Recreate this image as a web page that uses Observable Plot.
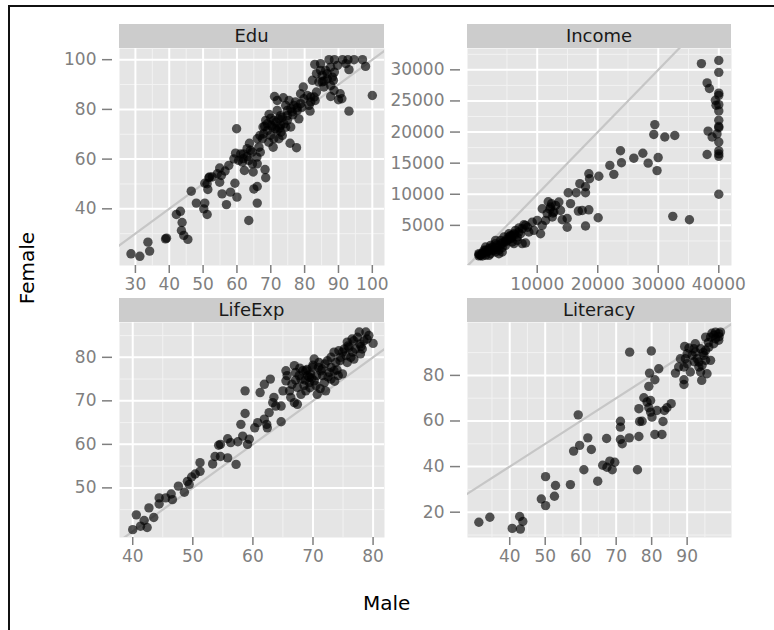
<!DOCTYPE html>
<html><head><meta charset="utf-8">
<script src="https://cdn.jsdelivr.net/npm/d3@7"></script>
<script src="https://cdn.jsdelivr.net/npm/@observablehq/plot@0.6"></script>
<style>
body{margin:0;background:#fff;}
#root{position:relative;width:774px;height:630px;overflow:hidden;font-family:"DejaVu Sans",sans-serif;background:#fff;}
#root svg{overflow:visible;}
.abs{position:absolute;}
.strip{position:absolute;background:#cccccc;color:#1a1a1a;font-size:18px;text-align:center;line-height:24px;height:24px;}
</style></head><body><div id="root"></div>
<script>
const panelNames = ["Edu", "Income", "LifeExp", "Literacy"];
const xTitle = "Male";
const yTitle = "Female";

// [male, female]
const edu = [
[28.7,21.9],[31.3,20.9],[33.7,26.6],[34.2,23],[38.9,27.9],[39.2,28.2],[42.1,37.7],[43.3,39],[43.8,34.5],[43.6,31.3],
[44.3,29.3],[45.5,27.7],[46.5,47.1],[48,42.3],[50.5,42.3],[50.5,50.3],[50.2,40],[51.2,37.7],[51.7,52.5],[51.9,52.8],
[51.4,47.8],[54.9,56.4],[55.4,53.4],[54.9,50.7],[55.6,46],[56.9,41.7],[58.1,46.7],[59.4,50.3],[60,44.7],[59.9,72.2],
[59.6,62.4],[61.1,62.1],[61.6,58.8],[62.2,55.4],[63,61],[63.7,66.4],[63.5,35.3],[64.8,54.8],[65,48],[66,49],
[66,42.3],[68.3,55.8],[68.5,52.5],[64.6,58.1],[65.9,60.8],[66,68.2],[66.8,69.5],[67.7,72.9],[68.5,75.6],[69,71.5],
[69.5,78],[69.9,69.5],[70.7,64.8],[70.9,75.6],[71.4,72.2],[71.9,79.6],[72.4,76.2],[72.9,73.6],[73.4,76.8],[73.9,74.2],
[71.1,85.2],[73.7,84.7],[74.4,81.6],[75.4,83.6],[75.9,80.3],[75.7,66.4],[77.6,64.6],[76.3,79],[77.3,83],[77.8,79.6],
[78.3,76.2],[78.8,86.3],[79.6,89],[76.8,81.6],[74.9,77.5],[74.4,72.8],[81.8,83],[81.6,79.3],[82.8,85],[82.3,91.7],
[83.5,94.4],[83,98.1],[84.7,98.4],[84.2,91],[85.2,93.7],[85.7,91.4],[86.2,95.7],[86.7,92.3],[87.2,100],[88.8,100],
[87.7,85.2],[88.7,87.6],[90,83.9],[93.1,79.3],[92.8,100],[93.1,96],[97.1,100],[98,97.3],[100,85.6],[88.8,95],
[89.7,97.7],[87.7,89.6],[84.7,95.7],[69,74.2],[70.4,72.9],[71.9,71.5],[70.9,68.2],[69.4,66.8],[67.9,70.2],[67.5,68.2],
[66.5,64.8],[66.9,62.8],[72.9,77.5],[74.9,79.6],[77.8,80.7],[78.8,82.3],[79.8,84.3],[80.8,85.6],[83.5,87],[83.1,83.6],
[71.9,83.6],[74.9,75.6],[75.9,72.9],[73.4,69.5],[72.4,68.2],[63,64.2],[62,62.1],[60.5,59.5],[59.1,60.1],[57.6,57.5],
[54.2,54.1],[52.7,52.8],[51.2,50.1],[63.5,59.5],[64.5,62.8],[66,58.1],[85.2,91.1],[85.7,89],[86.7,94.4],[87.7,97],
[88.2,93],[91.2,100],[94.6,100],[92.2,98.4],[88.5,91.7],[90.5,86.3],[91,84.3],[81.8,85],[81.3,81.6],[70.2,73.5],
[71.5,74.8],[72.6,72.5],[73,70.8],[68.2,73.2],[70,76.5],[76.5,77.8],[79.2,80.8],[61.8,60.2],[64,63.5],[56.5,55.2]
];

const income = [
[40000,31500],[40000,29600],[40000,26250],[40000,25900],[40000,24400],[40000,23400],[40000,21900],[40000,20900],[40000,20700],[40000,18400],
[40000,17000],[40000,16500],[40000,16100],[40000,10000],[37130,31000],[38070,27900],[38450,27000],[39550,24300],[38230,20150],[38900,19200],
[38070,16400],[39440,25100],[39700,19700],[29430,21200],[29260,19600],[31080,19200],[32730,19450],[29980,15900],[29800,13800],[27450,16600],
[28330,15000],[25960,15800],[23760,17000],[23920,15060],[22000,14640],[22660,13200],[20180,12900],[18530,13300],[18640,12500],[17040,11700],
[17980,11200],[15120,10250],[16440,10250],[17980,10250],[15500,8500],[17430,7400],[18530,7500],[20070,6230],[17980,4900],[14950,4700],
[14950,6100],[14130,5900],[32400,6450],[35150,5900],[11820,8800],[12200,7950],[12750,7150],[11650,6900],[12480,6340],[11380,5800],
[10830,5000],[10550,3660],[10000,5800],[9170,5500],[8070,5000],[7520,4470],[8620,3930],[9450,4200],[13030,8210],[13850,7400],
[13580,8750],[12370,8480],[10830,7680],[400,300],[920,450],[1470,1000],[2020,1250],[2570,1520],[3120,2060],[3950,2590],
[4500,3130],[5320,3660],[5870,3390],[6700,2590],[6150,2060],[4770,1790],[3670,1000],[2300,450],[1470,200],[640,150],
[3120,720],[4220,1410],[5050,2590],[5600,2860],[7250,3660],[7520,2060],[8070,2160],[6420,4200],[6700,3130],[3670,450],
[1750,720],[1200,1000],[370,450],[2570,1000],[3400,1520],[4500,2330],[5320,3130],[370,100],[920,80],[2020,180],
[2850,1000],[3950,1790],[4770,2330],[5600,3390],[6150,3660],[6970,3930],[5870,2330],[4220,720],[1470,1520],[2300,1790],
[3120,2590],[1000,600],[1800,900],[2600,1400],[3300,1800],[4100,2100],[4900,2700],[5700,3000],[6300,3500],[7000,4600],
[7800,5100],[8400,4700],[12100,7600],[12600,7000],[16800,7300]
];

const lifeExp = [
[40,40.4],[40.6,43.8],[41.3,41.2],[41.9,42.5],[42.4,40.9],[42.7,45.4],[43.5,43.2],[44.4,47.7],[44.4,46.3],[45.5,47.7],
[46.4,48.6],[46.6,47.3],[47.6,50.4],[48.6,49],[49.1,51.5],[49.4,50.8],[49.8,52.5],[50.4,53.2],[51.2,53.8],[51.2,55.8],
[53.3,55.5],[53.7,57.2],[54.6,57.2],[55.8,56.9],[54.3,59.8],[54.6,60],[55.8,61.3],[56.3,60.4],[57.2,55.4],[57.5,60.6],
[58,64.6],[58.3,61.9],[58.7,67.1],[58.7,72.3],[59.1,60],[59.4,61.2],[60.3,63.8],[60.8,65],[61.2,71.9],[61.9,73.8],
[62.9,75],[61.9,65.8],[62.3,64.6],[62.4,63.8],[62.7,67.3],[63.3,69.6],[63.5,70.8],[63.8,68.8],[64.7,68.8],[64.7,65.2],
[65,72.3],[65.5,74.6],[65.5,76.9],[66.1,72.3],[66.3,70.8],[66.9,78.1],[67.1,76.5],[67.1,74.8],[67.4,69.2],[67.4,73.1],
[68,75],[68.3,76.9],[68.5,73.5],[69.1,75.8],[69.4,74.2],[69.6,76.2],[69.9,77.7],[70.2,74.6],[70.5,73.5],[71,78.8],
[71.3,76.9],[71.6,75.8],[71.9,74.2],[72.4,79.2],[73,77.7],[73.5,76.9],[74,77.1],[74.9,76.2],[73.5,81.2],[74.3,81.5],
[75.2,81.9],[75.5,80.4],[76,82.3],[76.6,81.2],[76.8,83.8],[77.4,84.6],[77.8,83.1],[78.2,81.9],[78.8,85.8],[79.3,85],
[80,83.2],[70.2,79.6],[73,80],[74.6,80],[76.3,80],[77.1,81.9],[68.8,76.9],[69.4,75.4],[68.7,74.8],[69.8,75.2],
[70.6,75.8],[70.9,77.7],[72,78.5],[72.7,76.5],[67.7,75.8],[68,71.5],[66.9,69.6],[65.7,75.8],[68.8,72.3],[73.8,78.8],
[75.7,78.8],[76.8,79.6],[77.9,80.8],[78.5,83.8],[77.7,85.8],[75.7,83.5],[74.9,81.2],[73,75],[74.2,75.8],[70.7,71.5],
[72.1,72.3],[69,77.2],[70,78.2],[71.5,77.3],[72.5,75.5],[74.5,79.2],[75.8,82.6],[76.5,84.2],[78,82.5],[79,84.2],
[67.8,77.5],[69.5,73],[71.2,72.8],[73.6,74.5],[66.5,73.8]
];

const literacy = [
[31.3,15.6],[34.4,17.8],[40.7,12.9],[42.8,18.1],[43.7,15.9],[43,12.6],[48.9,25.8],[50.1,22.9],[50.1,35.6],[52.6,27],
[52.9,31.7],[57.1,32.1],[58,46.8],[59.3,62.7],[59.7,49.3],[60.9,38.6],[62,52.6],[63,47.5],[64.8,33.6],[66.2,40.6],
[67.3,52.3],[67.4,39.7],[68.2,42.4],[68.9,38.6],[69.6,41.9],[71.2,59.9],[71.2,57.3],[71.2,51.9],[71.7,50],[73.7,52.6],
[73.8,90.2],[76.4,53.2],[76,38.6],[76.6,59.8],[77.3,59.9],[76.4,65.4],[77.8,70.2],[78.7,68.3],[79.2,75.2],[79.4,81],
[79.9,90.7],[79.7,63.9],[80.1,61.7],[79.2,65.8],[79.7,69],[80.9,78.1],[80.9,54.1],[81.5,64.6],[82,82.9],[82.9,54.1],
[83.2,59.8],[83.6,64.6],[84.3,65.8],[85.5,67.6],[86.7,81],[89.1,78.1],[89.1,76],[88.1,87.3],[89.3,92.7],[90,89.5],
[90,85.1],[90.9,81.5],[91.9,91.7],[92.8,87.3],[93.3,83.7],[93.8,91.7],[94.1,77.8],[94.7,88.8],[95.2,96.8],[95.6,80.7],
[96.1,92.4],[96.6,96.8],[97.5,93.9],[98,99],[98.9,98.3],[98.9,95.4],[96.6,86.6],[94.2,84.4],[91.4,88.8],[87.6,83.7],
[92.3,93.9],[95.2,91],[98,96.1],[99.4,99],[97.5,97.6],[93.8,81.5],[89.1,83.7],[89.5,87.3],[92.3,90.2],[95.2,86.6],
[93.3,85.9],[96,94.5],[97,98.5],[99,97],[94.5,90],[92,86],[90.5,92]
];

// axis tick labels
const eduXTicks = [30, 40, 50, 60, 70, 80, 90, 100];
const eduYTicks = [40, 60, 80, 100];
const incomeXTicks = [10000, 20000, 30000, 40000];
const incomeYTicks = [5000, 10000, 15000, 20000, 25000, 30000];
const lifeXTicks = [40, 50, 60, 70, 80];
const lifeYTicks = [50, 60, 70, 80];
const litXTicks = [40, 50, 60, 70, 80, 90];
const litYTicks = [20, 40, 60, 80];

const root = document.getElementById("root");

function minorOf(ticks, domain) {
  const step = ticks[1] - ticks[0];
  const out = [];
  for (let v = ticks[0] - step / 2; v <= domain[1]; v += step) if (v >= domain[0]) out.push(v);
  return out;
}

function drawPanel(name, data, xDomain, yDomain, xTicks, yTicks, box) {
  const mL = 70, mR = 35, mB = 40;
  const w = box.w, h = box.h;
  const lo = Math.min(xDomain[0], yDomain[0]), hi = Math.max(xDomain[1], yDomain[1]);
  const fmt = d => String(d);
  const svg = Plot.plot({
    width: mL + w + mR, height: h + mB,
    marginLeft: mL, marginRight: mR, marginTop: 0, marginBottom: mB,
    x: {domain: xDomain}, y: {domain: yDomain},
    style: {fontFamily: "DejaVu Sans", fontSize: "17px", color: "#7f7f7f", background: "transparent", overflow: "visible"},
    marks: [
      Plot.frame({fill: "#e5e5e5", stroke: "none"}),
      Plot.ruleX(minorOf(xTicks, xDomain), {stroke: "#f2f2f2", strokeWidth: 1}),
      Plot.ruleY(minorOf(yTicks, yDomain), {stroke: "#f2f2f2", strokeWidth: 1}),
      Plot.ruleX(xTicks, {stroke: "#ffffff", strokeWidth: 2}),
      Plot.ruleY(yTicks, {stroke: "#ffffff", strokeWidth: 2}),
      Plot.link([[lo, hi]], {x1: d => d[0], y1: d => d[0], x2: d => d[1], y2: d => d[1], stroke: "#c6c6c6", strokeWidth: 2.2, clip: true}),
      Plot.dot(data, {x: d => d[0], y: d => d[1], r: 4.7, fill: "#000", fillOpacity: 0.66, stroke: "none"}),
      Plot.axisX({ticks: xTicks, tickFormat: fmt, tickSize: 8, tickPadding: 4, fontSize: 17, label: null, stroke: "#7f7f7f", strokeWidth: 1.5}),
      Plot.axisY({ticks: yTicks, tickFormat: fmt, tickSize: 10, tickPadding: 6, dx: -7, fontSize: 17, label: null, stroke: "#7f7f7f", strokeWidth: 1.5})
    ]
  });
  svg.classList.add("abs");
  svg.style.left = (box.x - mL) + "px";
  svg.style.top = box.y + "px";
  root.appendChild(svg);
  const strip = document.createElement("div");
  strip.className = "strip";
  strip.style.left = box.x + "px";
  strip.style.top = (box.y - 24) + "px";
  strip.style.width = w + "px";
  strip.textContent = name;
  root.appendChild(strip);
}

// frame lines
const frameTop = document.createElement("div");
frameTop.className = "abs"; Object.assign(frameTop.style, {left: "8px", top: "5px", width: "770px", height: "2px", background: "#111"});
root.appendChild(frameTop);
const frameLeft = document.createElement("div");
frameLeft.className = "abs"; Object.assign(frameLeft.style, {left: "8px", top: "5px", width: "2px", height: "630px", background: "#111"});
root.appendChild(frameLeft);

drawPanel(panelNames[0], edu, [25.3, 103.6], [17.2, 104.5], eduXTicks, eduYTicks, {x: 119, y: 48, w: 265, h: 217});
drawPanel(panelNames[1], income, [-1520, 42100], [-1450, 33430], incomeXTicks, incomeYTicks, {x: 467, y: 48, w: 264, h: 217});
drawPanel(panelNames[2], lifeExp, [37.8, 81.9], [38.6, 88], lifeXTicks, lifeYTicks, {x: 119, y: 322, w: 265, h: 215});
drawPanel(panelNames[3], literacy, [28.1, 102.5], [8.9, 103.2], litXTicks, litYTicks, {x: 467, y: 322, w: 264, h: 215});

const xLab = document.createElement("div");
xLab.className = "abs";
Object.assign(xLab.style, {left: "363px", top: "590px", fontSize: "20px", color: "#000", whiteSpace: "nowrap", lineHeight: "26px"});
xLab.textContent = xTitle;
root.appendChild(xLab);

const yLab = document.createElement("div");
yLab.className = "abs";
Object.assign(yLab.style, {left: "27px", top: "268px", fontSize: "20px", color: "#000", whiteSpace: "nowrap", lineHeight: "26px", transform: "translate(-50%,-50%) rotate(-90deg)"});
yLab.textContent = yTitle;
root.appendChild(yLab);
</script>
</body></html>
